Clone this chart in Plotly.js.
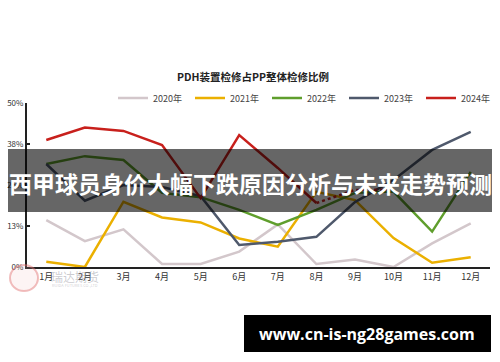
<!DOCTYPE html>
<html>
<head>
<meta charset="utf-8">
<script src="https://cdn.plot.ly/plotly-3.0.1.min.js"></script>
<style>html,body{margin:0;padding:0;background:#fff;}#chart{width:500px;height:362px;}</style>
</head>
<body>
<div id="chart"></div>
<script>
const months = ["1月","2月","3月","4月","5月","6月","7月","8月","9月","10月","11月","12月"];
const s2020 = [14.3, 7.9, 11.5, 0.9, 0.9, 4.7, 13.0, 0.9, 2.3, 0.0, 7.2, 13.3];
const s2021 = [1.6, 0.0, 19.9, 15.1, 13.6, 8.7, 6.2, 22.9, 20.4, 8.8, 1.3, 3.0];
const s2022 = [31.4, 33.8, 32.6, 22.6, 21.3, 17.4, 12.8, 17.4, 22.6, 23.0, 10.8, 29.0];
const s2023 = [31.4, 20.2, 25.0, 24.4, 21.6, 6.7, 7.7, 9.2, 19.8, 26.5, 35.7, 41.2];
const s2024 = [38.7, 42.5, 41.5, 37.2, 21.0, 40.2, 30.2, 19.5, null, null, null, null];
const s2024dot = [null, null, null, null, null, null, null, 19.5, 23.5, 23.6, null, null];
const seriesNames = ["2020年","2021年","2022年","2023年","2024年"];
const seriesColors = ["#d3c7cb","#ebb000","#5f9e2c","#4f596c","#c8201c"];
const yTickVals = [0, 12.5, 25, 37.5, 50];
const yTickText = ["0%","13%","25%","38%","50%"];
const chartTitle = "PDH装置检修占PP整体检修比例";
const bannerText = "西甲球员身价大幅下跌原因分析与未来走势预测";
const siteText = "www.cn-is-ng28games.com";

const allSeries = [s2020, s2021, s2022, s2023, s2024];
const traces = allSeries.map((ys, i) => ({
  x: months, y: ys, type: "scatter", mode: "lines", name: seriesNames[i],
  line: {color: seriesColors[i], width: 2.5}, hoverinfo: "skip"
}));
traces.push({
  x: months, y: s2024dot, type: "scatter", mode: "lines", showlegend: false,
  line: {color: seriesColors[4], width: 2.5, dash: "dot"}, hoverinfo: "skip"
});

const PW = 463, PH = 164, L = 27, T = 103;
const px = v => (v - L) / PW;
const py = v => (T + PH - v) / PH;

const layout = {
  width: 500, height: 362,
  margin: {l: L, r: 500 - L - PW, t: T, b: 362 - T - PH, pad: 0, autoexpand: false},
  paper_bgcolor: "#fff", plot_bgcolor: "#fff",
  font: {family: "Noto Sans CJK SC, Noto Sans, sans-serif", size: 9, color: "#333"},
  title: {text: chartTitle, x: 253/500, xref: "container", xanchor: "center",
          y: 1 - 77/362, yref: "container", yanchor: "middle",
          font: {size: 10.5, color: "#222", weight: "bold"}},
  showlegend: true,
  legend: {orientation: "h", xref: "container", yref: "container", x: 113/500, xanchor: "left",
           y: 1 - 98/362, yanchor: "middle",
           entrywidth: 32, entrywidthmode: "pixels", font: {size: 9, color: "#444"},
           bgcolor: "rgba(0,0,0,0)", tracegroupgap: 0, itemwidth: 30},
  xaxis: {type: "category", range: [-0.5, 11.5], showgrid: false, zeroline: false,
          showline: true, linecolor: "#222", linewidth: 2, ticks: "", tickfont: {size: 9, color: "#333"},
          fixedrange: true},
  yaxis: {range: [0, 50], tickvals: yTickVals, ticktext: yTickText, showgrid: false, zeroline: false,
          showline: true, linecolor: "#222", linewidth: 2, ticks: "inside", ticklen: 3, tickwidth: 1.5,
          tickcolor: "#222", tickfont: {size: 8, color: "#333"}, fixedrange: true},
  shapes: [
    {type: "circle", xref: "paper", yref: "paper", x0: px(10), x1: px(38), y0: py(291), y1: py(265),
     line: {color: "rgba(225,110,110,0.45)", width: 2}, fillcolor: "rgba(240,180,180,0.15)", layer: "above"},
    {type: "rect", xref: "paper", yref: "paper", x0: px(8), x1: px(492), y0: py(212), y1: py(149),
     line: {width: 0}, fillcolor: "rgba(0,0,0,0.6)", layer: "above"},
    {type: "rect", xref: "paper", yref: "paper", x0: px(244), x1: px(491), y0: py(352), y1: py(315),
     line: {width: 0}, fillcolor: "#000", layer: "above"}
  ],
  annotations: [
    {text: "瑞达期货", xref: "paper", yref: "paper", x: px(75), y: py(276), showarrow: false,
     font: {size: 12, color: "rgba(140,140,150,0.45)"}, xanchor: "center", yanchor: "middle"},
    {text: "RUIDA FUTURES CO.,LTD", xref: "paper", yref: "paper", x: px(75), y: py(285), showarrow: false,
     font: {size: 4, color: "rgba(140,140,150,0.45)"}, xanchor: "center", yanchor: "middle"},
    {text: bannerText, xref: "paper", yref: "paper", x: px(250), y: py(183), showarrow: false,
     font: {size: 23, color: "#fff", weight: "bold", family: "Noto Sans CJK SC"}, xanchor: "center", yanchor: "middle"},
    {text: siteText, xref: "paper", yref: "paper", x: px(367), y: py(333.5), showarrow: false,
     font: {size: 16, color: "#fff", weight: "bold", family: "Open Sans"}, xanchor: "center", yanchor: "middle"}
  ]
};

Plotly.newPlot("chart", traces, layout, {staticPlot: true, displayModeBar: false});
</script>
</body>
</html>
